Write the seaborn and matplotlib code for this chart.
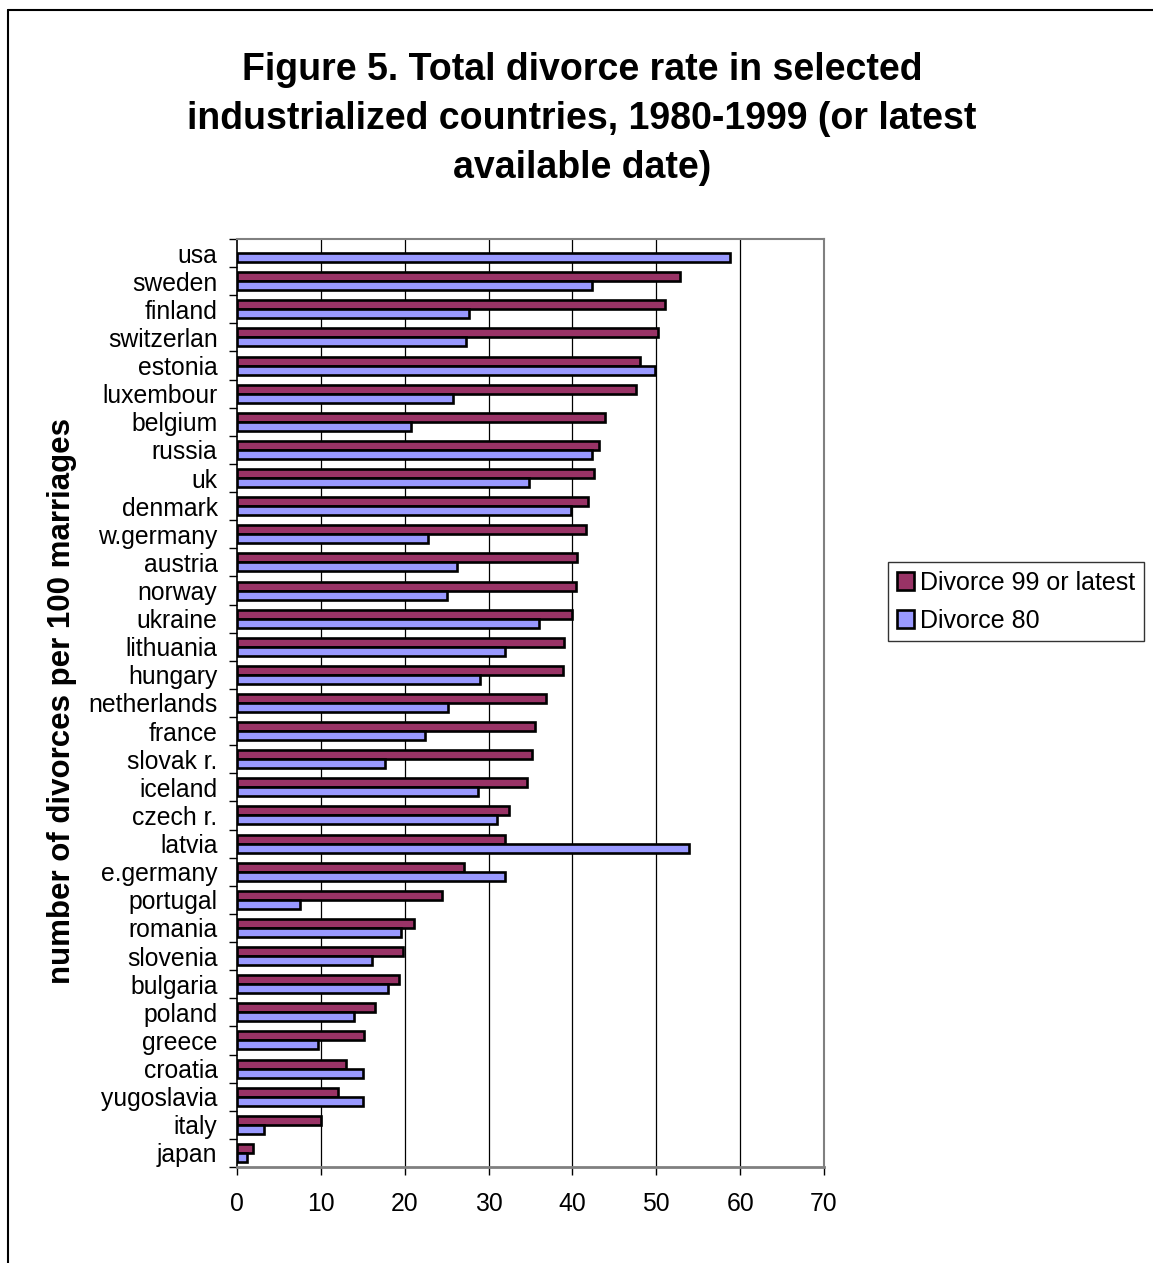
import matplotlib
matplotlib.use("Agg")
import matplotlib.pyplot as plt
from matplotlib.lines import Line2D
from matplotlib.ticker import FixedLocator, NullFormatter
import numpy as np
import pandas as pd
import seaborn as sns

# Countries, ordered top to bottom by the latest divorce rate
countries = [
    "usa", "sweden", "finland", "switzerlan", "estonia", "luxembour",
    "belgium", "russia", "uk", "denmark", "w.germany", "austria", "norway",
    "ukraine", "lithuania", "hungary", "netherlands", "france", "slovak r.",
    "iceland", "czech r.", "latvia", "e.germany", "portugal", "romania",
    "slovenia", "bulgaria", "poland", "greece", "croatia", "yugoslavia",
    "italy", "japan",
]

# Divorces per 100 marriages, 1999 (or latest available year)
divorce_99 = [
    np.nan, 52.8, 51.0, 50.2, 48.0, 47.6,
    43.9, 43.2, 42.6, 41.9, 41.6, 40.5, 40.4,
    40.0, 39.0, 38.9, 36.9, 35.5, 35.2,
    34.6, 32.4, 32.0, 27.1, 24.4, 21.1,
    19.8, 19.3, 16.5, 15.1, 13.0, 12.0,
    10.0, 1.9,
]

# Divorces per 100 marriages, 1980
divorce_80 = [
    58.8, 42.3, 27.7, 27.3, 49.9, 25.8,
    20.7, 42.3, 34.8, 39.8, 22.8, 26.2, 25.0,
    36.0, 31.9, 29.0, 25.2, 22.4, 17.6,
    28.7, 31.0, 53.9, 31.9, 7.5, 19.6,
    16.1, 18.0, 14.0, 9.7, 15.0, 15.0,
    3.2, 1.2,
]

series_names = ["Divorce 99 or latest", "Divorce 80"]
series_colors = ["#993366", "#9999FF"]
x_ticks = [0, 10, 20, 30, 40, 50, 60, 70]

title_text = ("Figure 5. Total divorce rate in selected\n"
              "industrialized countries, 1980-1999 (or latest\n"
              "available date)")
ylabel_text = "number of divorces per 100 marriages"

df = pd.DataFrame({
    "country": countries * 2,
    "rate": divorce_99 + divorce_80,
    "series": [series_names[0]] * len(countries) + [series_names[1]] * len(countries),
})

sns.set_theme(style="white")
plt.rcParams["font.family"] = ["Liberation Sans", "DejaVu Sans"]
plt.rcParams["text.color"] = "black"
plt.rcParams["axes.labelcolor"] = "black"
plt.rcParams["xtick.color"] = "black"
plt.rcParams["ytick.color"] = "black"

W, H = 1153, 1263
fig = plt.figure(figsize=(W / 100, H / 100), dpi=100)
fig.patch.set_facecolor("white")

ax_l, ax_r, ax_t, ax_b = 237, 824, 239, 1167
ax = fig.add_axes([ax_l / W, 1 - ax_b / H, (ax_r - ax_l) / W, (ax_b - ax_t) / H])
ax.set_axisbelow(True)

sns.barplot(
    data=df, y="country", x="rate", hue="series",
    order=countries, hue_order=series_names,
    palette=series_colors, orient="h", width=0.64, gap=0,
    edgecolor="black", linewidth=1.9, saturation=1, errorbar=None,
    legend=True, ax=ax,
)
for p in ax.patches:
    p.set_zorder(2)

ax.set_xlim(0, 70)
ax.set_ylim(len(countries) - 0.5, -0.5)
ax.set_xticks(x_ticks)
ax.set_xticklabels([str(t) for t in x_ticks])
ax.set_xlabel("")
ax.set_ylabel("")

# Vertical gridlines behind the bars
for t in x_ticks[1:-1]:
    ax.axvline(t, color="black", linewidth=0.9, zorder=0.5)

# Tick marks sit between categories on the y axis
ax.yaxis.set_minor_locator(FixedLocator(np.arange(-0.5, len(countries), 1.0)))
ax.yaxis.set_minor_formatter(NullFormatter())
ax.tick_params(axis="y", which="major", length=0, pad=14, labelsize=17.8,
               labelcolor="black")
ax.tick_params(axis="y", which="minor", left=True, length=6, width=1,
               color="black", direction="out")
ax.tick_params(axis="x", which="major", bottom=True, length=6, width=1,
               color="black", direction="out", pad=12, labelsize=17.8,
               labelcolor="black")

for side in ["top", "right"]:
    ax.spines[side].set_color("#808080")
    ax.spines[side].set_linewidth(1.5)
ax.spines["left"].set_color("black")
ax.spines["left"].set_linewidth(1.2)
ax.spines["bottom"].set_color("#808080")
ax.spines["bottom"].set_linewidth(2)
for s in ax.spines.values():
    s.set_visible(True)
    s.set_zorder(3)

# Legend to the right of the plot
handles, labels = ax.get_legend_handles_labels()
ax.get_legend().remove()
leg = fig.legend(
    handles, labels, loc="upper left",
    bbox_to_anchor=(888 / W, 1 - 562 / H), bbox_transform=fig.transFigure,
    fontsize=18, frameon=True, fancybox=False, shadow=False,
    edgecolor="black", handlelength=0.7, handleheight=0.7,
    handletextpad=0.25, labelspacing=0.55, borderpad=0.35,
    borderaxespad=0,
)
leg.get_frame().set_linewidth(1.0)
for t in leg.get_texts():
    t.set_color("black")

# Title and axis label
fig.text(582 / W, 1 - 119 / H, title_text, ha="center", va="center",
         fontsize=27, fontweight="bold", linespacing=1.45, color="black")
fig.text(62 / W, 1 - 701 / H, ylabel_text, ha="center", va="center",
         rotation=90, fontsize=22.5, fontweight="bold", color="black")

# Outer chart border
fig.add_artist(Line2D([8 / W, 1], [1 - 10 / H, 1 - 10 / H],
                      transform=fig.transFigure, color="black", linewidth=1.5))
fig.add_artist(Line2D([8 / W, 8 / W], [0, 1 - 10 / H],
                      transform=fig.transFigure, color="black", linewidth=1.5))

fig.savefig("out.png", dpi=100)
